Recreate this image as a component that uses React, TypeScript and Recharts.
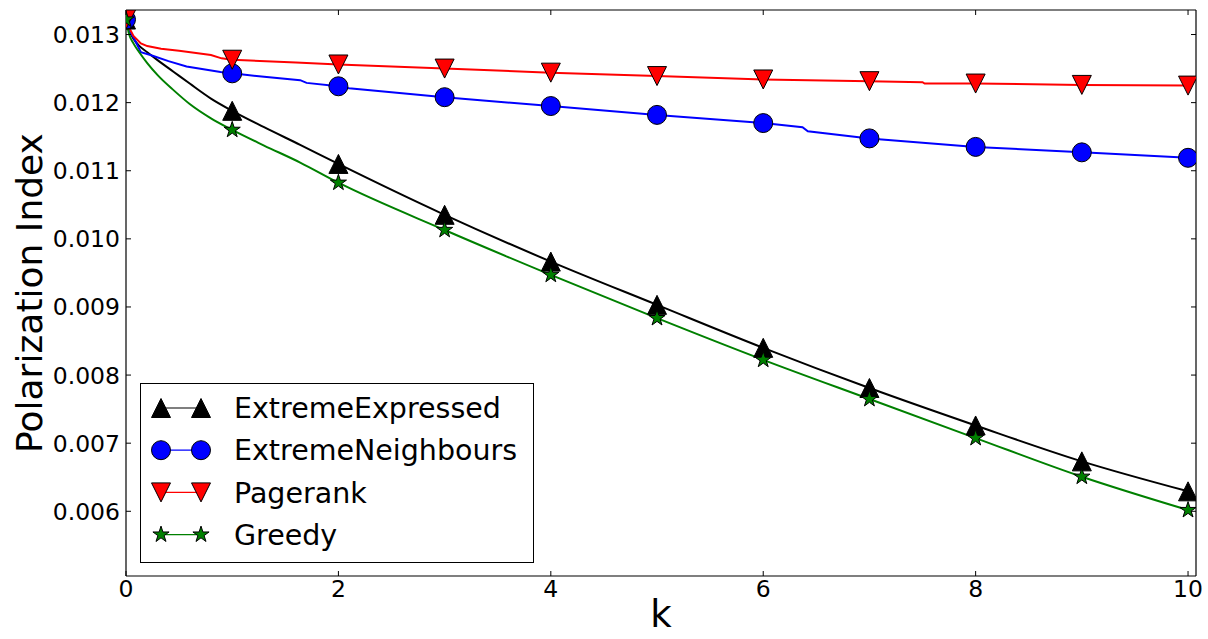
import { LineChart, Line, XAxis, YAxis, Legend } from "recharts";

// values
const K_EXPRESSED = [0, 0.03, 0.07, 0.12, 0.2, 0.3, 0.45, 0.6, 0.8, 1, 1.3, 1.64, 2, 3, 4, 5, 6, 7, 8, 9, 10];
const EXPRESSED = [
  0.01322, 0.01306, 0.01294, 0.01284, 0.01274, 0.01262, 0.01245, 0.01228, 0.01206, 0.01188, 0.01164,
  0.01138, 0.0111, 0.010353, 0.009666, 0.009031, 0.0084, 0.00781, 0.00726, 0.006733, 0.006293,
];

const K_NEIGHBOURS = [0, 0.03, 0.07, 0.14, 0.23, 0.4, 0.57, 0.89, 1, 1.3, 1.64, 1.7, 2, 2.1, 3, 4, 5, 6, 6.37, 6.42, 7, 8, 9, 10];
const NEIGHBOURS = [
  0.01322, 0.01305, 0.01296, 0.01274, 0.0127, 0.01261, 0.01253, 0.01245, 0.01243, 0.01238, 0.01233,
  0.01229, 0.01224, 0.01221, 0.01208, 0.01195, 0.01182, 0.0117, 0.01164, 0.01158, 0.011475, 0.01135,
  0.01127, 0.01119,
];

const K_PAGERANK = [0, 0.03, 0.07, 0.14, 0.2, 0.33, 0.5, 0.8, 0.9, 1, 1.6, 2, 3, 4, 5, 6, 7, 7.5, 7.52, 8, 9, 10];
const PAGERANK = [
  0.01322, 0.0131, 0.01298, 0.01287, 0.01283, 0.01279, 0.01276, 0.0127, 0.01265, 0.01263, 0.01259,
  0.01256, 0.0125, 0.01244, 0.01239, 0.01234, 0.012315, 0.0123, 0.01228, 0.01228, 0.01226, 0.01225,
];

const K_GREEDY = [0, 0.03, 0.07, 0.12, 0.2, 0.3, 0.45, 0.6, 0.8, 1, 1.3, 1.64, 2, 3, 4, 5, 6, 7, 8, 9, 10];
const GREEDY = [
  0.01322, 0.013, 0.01287, 0.01275, 0.01258, 0.0124, 0.01218, 0.01198, 0.01177, 0.0116, 0.01137,
  0.01112, 0.010824, 0.01013, 0.009471, 0.008836, 0.008224, 0.007648, 0.007075, 0.006507, 0.006018,
];

const X_TICKS = [0, 2, 4, 6, 8, 10];
const Y_TICKS = [0.006, 0.007, 0.008, 0.009, 0.01, 0.011, 0.012, 0.013];
const X_DOMAIN = [0, 10.075];
const Y_DOMAIN = [0.00505, 0.01336];

const FONT = "DejaVu Sans";

type MarkerKind = "triangleUp" | "circle" | "triangleDown" | "star";

const series: { name: string; color: string; marker: MarkerKind; smooth: boolean; rows: { k: number; v: number }[] }[] = [
  { name: "ExtremeExpressed", color: "#000000", marker: "triangleUp", smooth: true, rows: K_EXPRESSED.map((k, i) => ({ k, v: EXPRESSED[i] })) },
  { name: "ExtremeNeighbours", color: "#0000ff", marker: "circle", smooth: false, rows: K_NEIGHBOURS.map((k, i) => ({ k, v: NEIGHBOURS[i] })) },
  { name: "Pagerank", color: "#ff0000", marker: "triangleDown", smooth: false, rows: K_PAGERANK.map((k, i) => ({ k, v: PAGERANK[i] })) },
  { name: "Greedy", color: "#008000", marker: "star", smooth: true, rows: K_GREEDY.map((k, i) => ({ k, v: GREEDY[i] })) },
];

function Marker({ kind, cx, cy, color }: { kind: MarkerKind; cx: number; cy: number; color: string }) {
  const r = 9.5;
  if (kind === "circle") {
    return <circle cx={cx} cy={cy} r={r} fill={color} stroke="#000" strokeWidth={1} />;
  }
  if (kind === "triangleUp") {
    const pts = `${cx},${cy - r} ${cx - r},${cy + r} ${cx + r},${cy + r}`;
    return <polygon points={pts} fill={color} stroke="#000" strokeWidth={1} />;
  }
  if (kind === "triangleDown") {
    const pts = `${cx},${cy + r} ${cx - r},${cy - r} ${cx + r},${cy - r}`;
    return <polygon points={pts} fill={color} stroke="#000" strokeWidth={1} />;
  }
  // five point star
  const outer = 8.5;
  const inner = outer * 0.381966;
  const pts: string[] = [];
  for (let i = 0; i < 10; i++) {
    const rad = i % 2 === 0 ? outer : inner;
    const a = -Math.PI / 2 + (i * Math.PI) / 5;
    pts.push(`${cx + rad * Math.cos(a)},${cy + rad * Math.sin(a)}`);
  }
  return <polygon points={pts.join(" ")} fill={color} stroke="#000" strokeWidth={1} />;
}

const makeDot = (kind: MarkerKind, color: string) => (props: any) => {
  const { cx, cy, payload, index } = props;
  if (!Number.isInteger(payload.k) || cx == null || cy == null) return <g key={index} />;
  return (
    <g key={index}>
      <Marker kind={kind} cx={cx} cy={cy} color={color} />
    </g>
  );
};

const LeftTick = (props: any) => {
  const { x, y, payload } = props;
  return (
    <g>
      <text x={x} y={y} dy="0.36em" textAnchor="end" fontFamily={FONT} fontSize={23.5} fill="#000">
        {Number(payload.value).toFixed(3)}
      </text>
      <line x1={x + 6} x2={x + 11} y1={y} y2={y} stroke="#000" />
    </g>
  );
};

const RightTick = (props: any) => {
  const { x, y } = props;
  return <line x1={x} x2={x - 5} y1={y} y2={y} stroke="#000" />;
};

const BottomTick = (props: any) => {
  const { x, y, payload } = props;
  return (
    <g>
      <text x={x} y={y} dy="0.74em" textAnchor="middle" fontFamily={FONT} fontSize={23.5} fill="#000">
        {payload.value}
      </text>
      <line x1={x} x2={x} y1={y - 4} y2={y - 9} stroke="#000" />
    </g>
  );
};

const TopTick = (props: any) => {
  const { x, y } = props;
  return <line x1={x} x2={x} y1={y} y2={y + 5} stroke="#000" />;
};

function LegendBox() {
  return (
    <svg width={394} height={180} style={{ display: "block" }}>
      <rect x={0.5} y={0.5} width={393} height={179} fill="#fff" stroke="#000" strokeWidth={1} />
      {series.map((s, i) => {
        const cy = 25 + i * 42.2;
        return (
          <g key={s.name}>
            <line x1={21} x2={61} y1={cy} y2={cy} stroke={s.color} strokeWidth={1.2} />
            <Marker kind={s.marker} cx={21} cy={cy} color={s.color} />
            <Marker kind={s.marker} cx={61} cy={cy} color={s.color} />
            <text x={94} y={cy} dy="0.36em" fontFamily={FONT} fontSize={28.5} fill="#000">
              {s.name}
            </text>
          </g>
        );
      })}
    </svg>
  );
}

export default function App() {
  return (
    <div style={{ position: "absolute", left: 0, top: 0, background: "#fff" }}>
      <LineChart width={1208} height={639} margin={{ top: 9, right: 11, bottom: 0, left: 0 }}>
        <XAxis
          dataKey="k"
          type="number"
          domain={X_DOMAIN}
          ticks={X_TICKS}
          allowDataOverflow
          height={63}
          tickSize={0}
          tickMargin={4}
          tickLine={false}
          axisLine={{ stroke: "#000", strokeWidth: 1.2 }}
          tick={<BottomTick />}
          label={{ value: "k", position: "insideBottom", offset: 12, fontFamily: FONT, fontSize: 37, fill: "#000" }}
        />
        <XAxis
          xAxisId="top"
          orientation="top"
          dataKey="k"
          type="number"
          domain={X_DOMAIN}
          ticks={X_TICKS}
          allowDataOverflow
          height={1}
          tickSize={0}
          tickMargin={0}
          tickLine={false}
          axisLine={{ stroke: "#000", strokeWidth: 1.2 }}
          tick={<TopTick />}
        />
        <YAxis
          type="number"
          domain={Y_DOMAIN}
          ticks={Y_TICKS}
          allowDataOverflow
          width={126}
          tickSize={0}
          tickMargin={6}
          tickLine={false}
          axisLine={{ stroke: "#000", strokeWidth: 1.2 }}
          tick={<LeftTick />}
          label={{ value: "Polarization Index", angle: -90, position: "center", dx: -34, fontFamily: FONT, fontSize: 36, fill: "#000" }}
        />
        <YAxis
          yAxisId="right"
          orientation="right"
          type="number"
          domain={Y_DOMAIN}
          ticks={Y_TICKS}
          allowDataOverflow
          width={1}
          tickSize={0}
          tickMargin={0}
          tickLine={false}
          axisLine={{ stroke: "#000", strokeWidth: 1.2 }}
          tick={<RightTick />}
        />
        <Legend
          layout="vertical"
          align="center"
          verticalAlign="middle"
          wrapperStyle={{ left: 140, top: 383, width: 394, height: 180 }}
          content={() => <LegendBox />}
        />
        {series.map((s) => (
          <Line
            key={s.name}
            data={s.rows}
            dataKey="v"
            name={s.name}
            type={s.smooth ? "monotone" : "linear"}
            stroke={s.color}
            strokeWidth={2}
            dot={makeDot(s.marker, s.color)}
            activeDot={false}
            isAnimationActive={false}
          />
        ))}
      </LineChart>
    </div>
  );
}
